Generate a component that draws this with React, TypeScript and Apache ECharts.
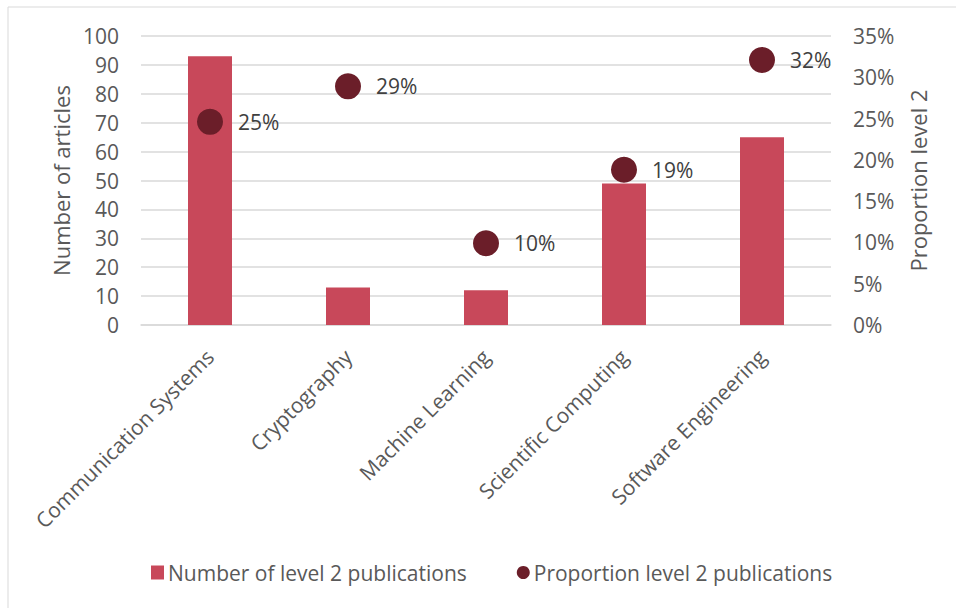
import React, { useEffect, useRef } from "react";
import * as echarts from "echarts";

const categories = [
  "Communication Systems",
  "Cryptography",
  "Machine Learning",
  "Scientific Computing",
  "Software Engineering",
];
const publicationCounts = [93, 13, 12, 49, 65];
const proportions = [0.246, 0.289, 0.099, 0.188, 0.321];
const leftTicks = { min: 0, max: 100, interval: 10 };
const rightTicks = { min: 0, max: 0.35, interval: 0.05 };

const FONT = "'Open Sans', sans-serif";
const AXIS_COLOR = "#595959";

export default function App() {
  const ref = useRef<HTMLDivElement>(null);
  useEffect(() => {
    if (!ref.current) return;
    const chart = echarts.init(ref.current, undefined, { renderer: "svg" });
    chart.setOption({
      animation: false,
      textStyle: { fontFamily: FONT },
      graphic: [
        {
          type: "rect",
          shape: { x: 8, y: 7, width: 960, height: 620 },
          style: { fill: "none", stroke: "#d9d9d9", lineWidth: 1 },
          silent: true,
        },
      ],
      grid: { left: 141, right: 125, top: 36, bottom: 283 },
      legend: {
        left: 146,
        top: 557,
        itemGap: 50,
        itemWidth: 13,
        itemHeight: 14,
        textStyle: { fontFamily: FONT, fontSize: 21, color: AXIS_COLOR, padding: [0, 0, 0, -1] },
        data: [
          { name: "Number of level 2 publications", icon: "rect" },
          { name: "Proportion level 2 publications", icon: "circle" },
        ],
      },
      xAxis: {
        type: "category",
        data: categories,
        axisLine: { show: true, lineStyle: { color: "#d9d9d9", width: 1.5 } },
        axisTick: { show: false },
        axisLabel: {
          rotate: 45,
          interval: 0,
          margin: 28,
          fontFamily: FONT,
          fontSize: 21,
          color: AXIS_COLOR,
        },
      },
      yAxis: [
        {
          type: "value",
          min: leftTicks.min,
          max: leftTicks.max,
          interval: leftTicks.interval,
          name: "Number of articles",
          nameLocation: "middle",
          nameGap: 67,
          nameTextStyle: { fontFamily: FONT, fontSize: 22, color: AXIS_COLOR },
          axisLine: { show: false },
          axisTick: { show: false },
          axisLabel: { margin: 22, fontFamily: FONT, fontSize: 21, color: AXIS_COLOR },
          splitLine: { lineStyle: { color: "#d9d9d9", width: 1.5 } },
        },
        {
          type: "value",
          min: rightTicks.min,
          max: rightTicks.max,
          interval: rightTicks.interval,
          name: "Proportion level 2",
          nameLocation: "middle",
          nameGap: 76,
          nameTextStyle: { fontFamily: FONT, fontSize: 22, color: AXIS_COLOR },
          axisLine: { show: false },
          axisTick: { show: false },
          axisLabel: {
            margin: 22,
            fontFamily: FONT,
            fontSize: 21,
            color: AXIS_COLOR,
            formatter: (v: number) => Math.round(v * 100) + "%",
          },
          splitLine: { show: false },
        },
      ],
      series: [
        {
          name: "Number of level 2 publications",
          type: "bar",
          data: publicationCounts,
          barWidth: 44,
          yAxisIndex: 0,
          itemStyle: { color: "#C8485A", opacity: 1 },
        },
        {
          name: "Proportion level 2 publications",
          type: "scatter",
          data: proportions,
          yAxisIndex: 1,
          symbolSize: 26,
          itemStyle: { color: "#6B1E29", opacity: 1 },
          label: {
            show: true,
            position: "right",
            distance: 15,
            fontFamily: FONT,
            fontSize: 21,
            color: "#404040",
            formatter: (p: any) => Math.round(p.value * 100) + "%",
          },
        },
      ],
    });
    return () => chart.dispose();
  }, []);
  return (
    <div
      ref={ref}
      style={{ position: "absolute", left: 0, top: 0, width: 956, height: 608, background: "#fff" }}
    />
  );
}
